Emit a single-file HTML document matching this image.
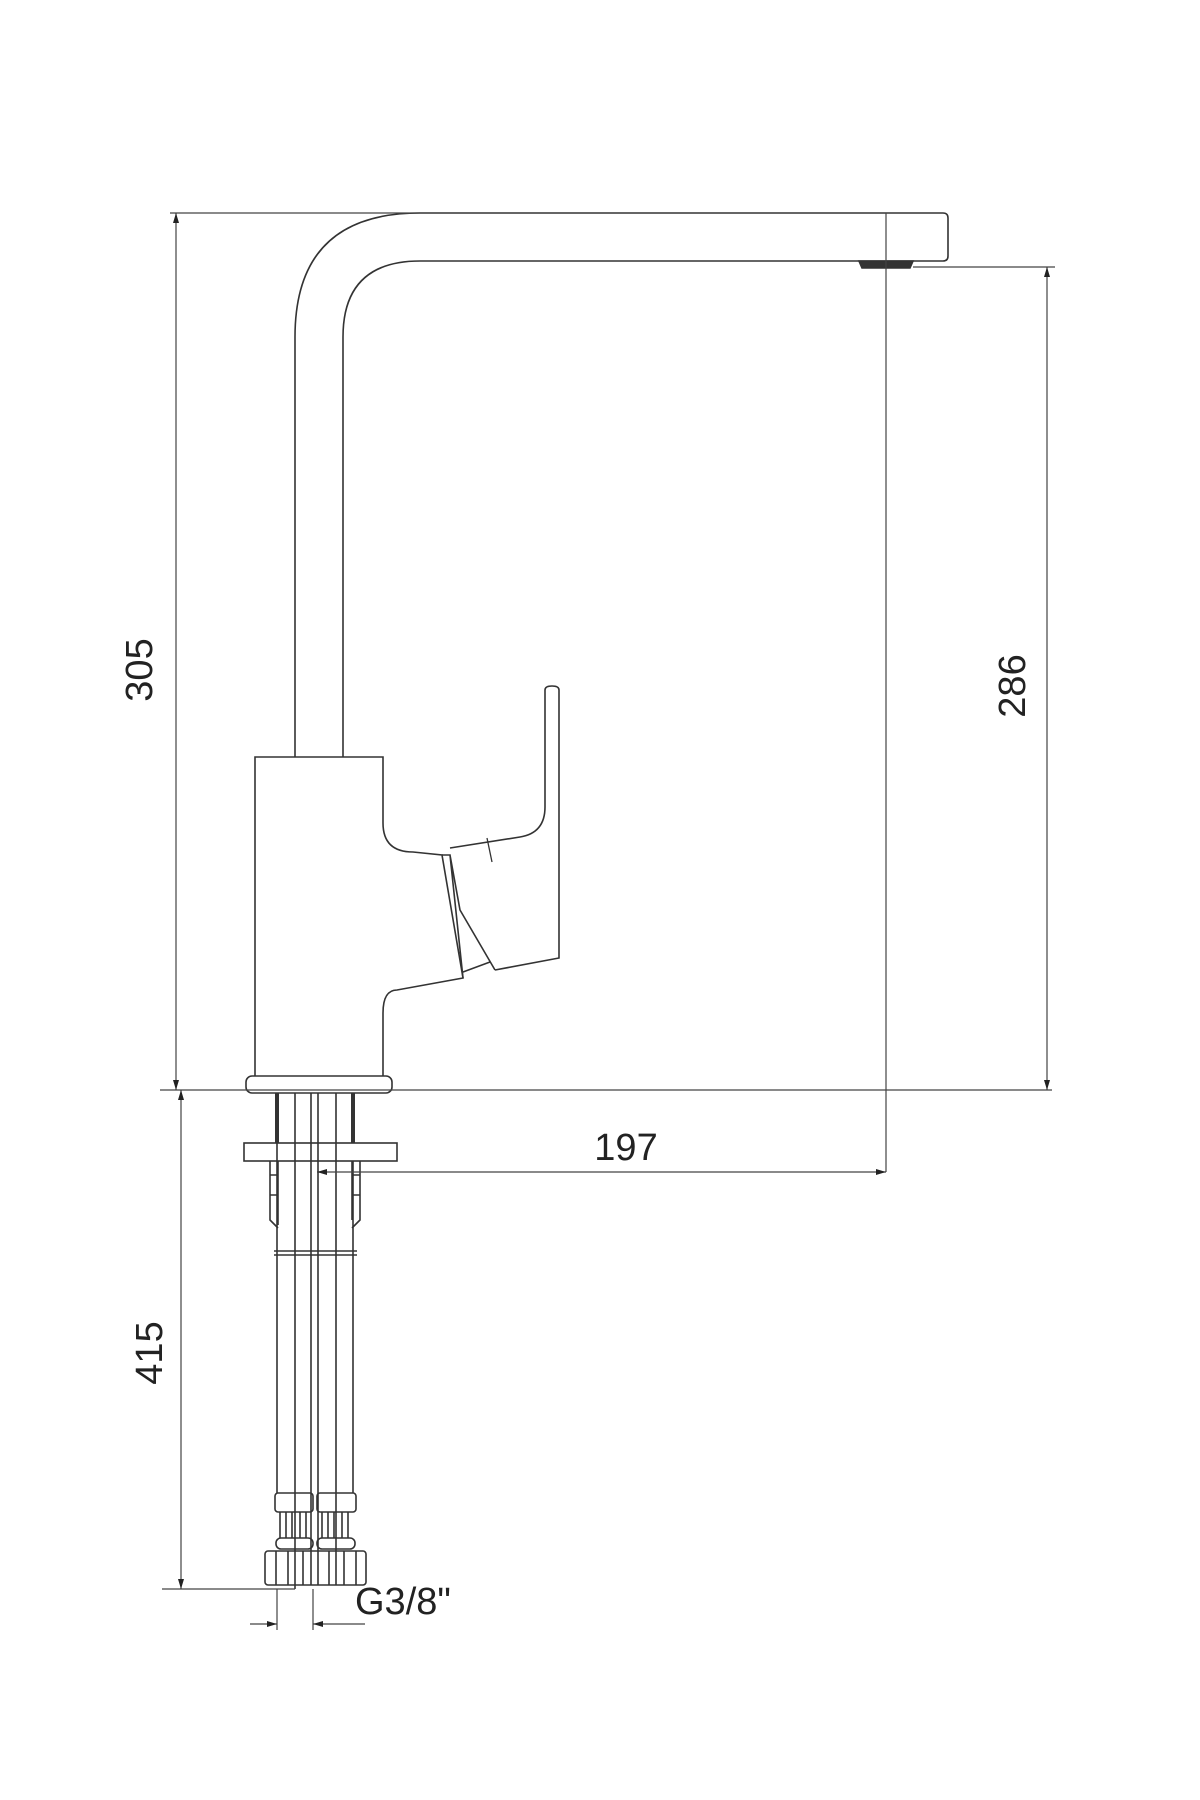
<!DOCTYPE html>
<html><head><meta charset="utf-8"><style>
html,body{margin:0;padding:0;background:#fff;}
svg{display:block;}
text{font-family:"Liberation Sans",Arial,sans-serif;fill:#222;}
</style></head><body>
<svg width="1200" height="1800" viewBox="0 0 1200 1800" xmlns="http://www.w3.org/2000/svg">
<defs>
<marker id="a" viewBox="0 0 10 10" refX="10" refY="5" markerWidth="10" markerHeight="10" markerUnits="userSpaceOnUse" orient="auto-start-reverse"><path d="M0,2 L10,5 L0,8z" fill="#222"/></marker>
</defs>
<g fill="none" stroke="#333" stroke-width="1.6">
<path d="M295,757 L295,337 Q295,213 420,213 L943,213 Q948,213 948,218 L948,256 Q948,261 943,261 L420,261 Q343,261 343,337 L343,757"/>
<path d="M859,261 L913,261 L910,268 L862,268 Z" fill="#333"/>
<path d="M383,1076 L383,1013 Q383,990 397,990 L463,978 L442,855 L413,852 Q383,852 383,823 L383,757 L255,757 L255,1076"/>
<path d="M442,855 L450,855 L460,910 L495,970 M450,855 L463,978 M463,972 L490,962"/>
<path d="M450,848 L520,837 Q545,833 545,807 L545,690 Q545,686 552,686 Q559,686 559,690 L559,958 L495,970"/>
<path d="M487,838 L492,862" stroke-width="1.3"/>
<rect x="246" y="1076" width="146" height="17" rx="6"/>
<path d="M277,1093 L277,1143 M353,1093 L353,1143" stroke-width="4"/>
<rect x="244" y="1143" width="153" height="18"/>
<path d="M270,1161 L270,1220 L278,1228 M278,1161 L278,1225 M270,1175 L278,1175 M270,1195 L278,1195"/>
<path d="M352,1161 L352,1220 M360,1161 L360,1220 L352,1228 M352,1175 L360,1175 M352,1195 L360,1195"/>
<path d="M274,1251 L357,1251 M274,1255 L357,1255"/>
<path d="M277,1093 L277,1493 M295,1093 L295,1589 M311,1093 L311,1585 M318,1093 L318,1585 M336,1093 L336,1585 M353,1161 L353,1493"/>
<rect x="275" y="1493" width="38" height="19" rx="3"/>
<rect x="317" y="1493" width="39" height="19" rx="3"/>
<path d="M280,1512 L280,1538 M286,1512 L286,1538 M292,1512 L292,1538 M300,1512 L300,1538 M306,1512 L306,1538 M322,1512 L322,1538 M328,1512 L328,1538 M334,1512 L334,1538 M342,1512 L342,1538 M348,1512 L348,1538"/>
<rect x="276" y="1538" width="37" height="11" rx="5"/>
<rect x="317" y="1538" width="38" height="11" rx="5"/>
<rect x="265" y="1551" width="101" height="34" rx="3"/>
<path d="M276,1551 L276,1585 M288,1551 L288,1585 M303,1551 L303,1585 M329,1551 L329,1585 M344,1551 L344,1585 M356,1551 L356,1585"/>
</g>
<g fill="none" stroke="#444" stroke-width="1.2">
<path d="M170,213 L420,213"/>
<path d="M160,1090 L1052,1090"/>
<path d="M913,267 L1055,267"/>
<path d="M886,213 L886,1172"/>
<path d="M162,1589 L295,1589"/>
<path d="M277,1589 L277,1630 M313,1589 L313,1630"/>
<path d="M176,1090 L176,213" marker-end="url(#a)" marker-start="url(#a)"/>
<path d="M181,1090 L181,1589" marker-start="url(#a)" marker-end="url(#a)"/>
<path d="M1047,1090 L1047,267" marker-start="url(#a)" marker-end="url(#a)"/>
<path d="M317,1172 L886,1172" marker-start="url(#a)" marker-end="url(#a)"/>
<path d="M250,1624 L277,1624" marker-end="url(#a)"/>
<path d="M340,1624 L313,1624" marker-end="url(#a)"/>
<path d="M340,1624 L365,1624"/>
</g>
<text x="142" y="670" font-size="38" text-anchor="middle" dominant-baseline="middle" transform="rotate(-90 142 670)">305</text>
<text x="1015" y="686" font-size="38" text-anchor="middle" dominant-baseline="middle" transform="rotate(-90 1015 686)">286</text>
<text x="152" y="1353" font-size="38" text-anchor="middle" dominant-baseline="middle" transform="rotate(-90 152 1353)">415</text>
<text x="626" y="1160" font-size="38" text-anchor="middle">197</text>
<text x="355" y="1614" font-size="38">G3/8"</text>
</svg>
</body></html>
